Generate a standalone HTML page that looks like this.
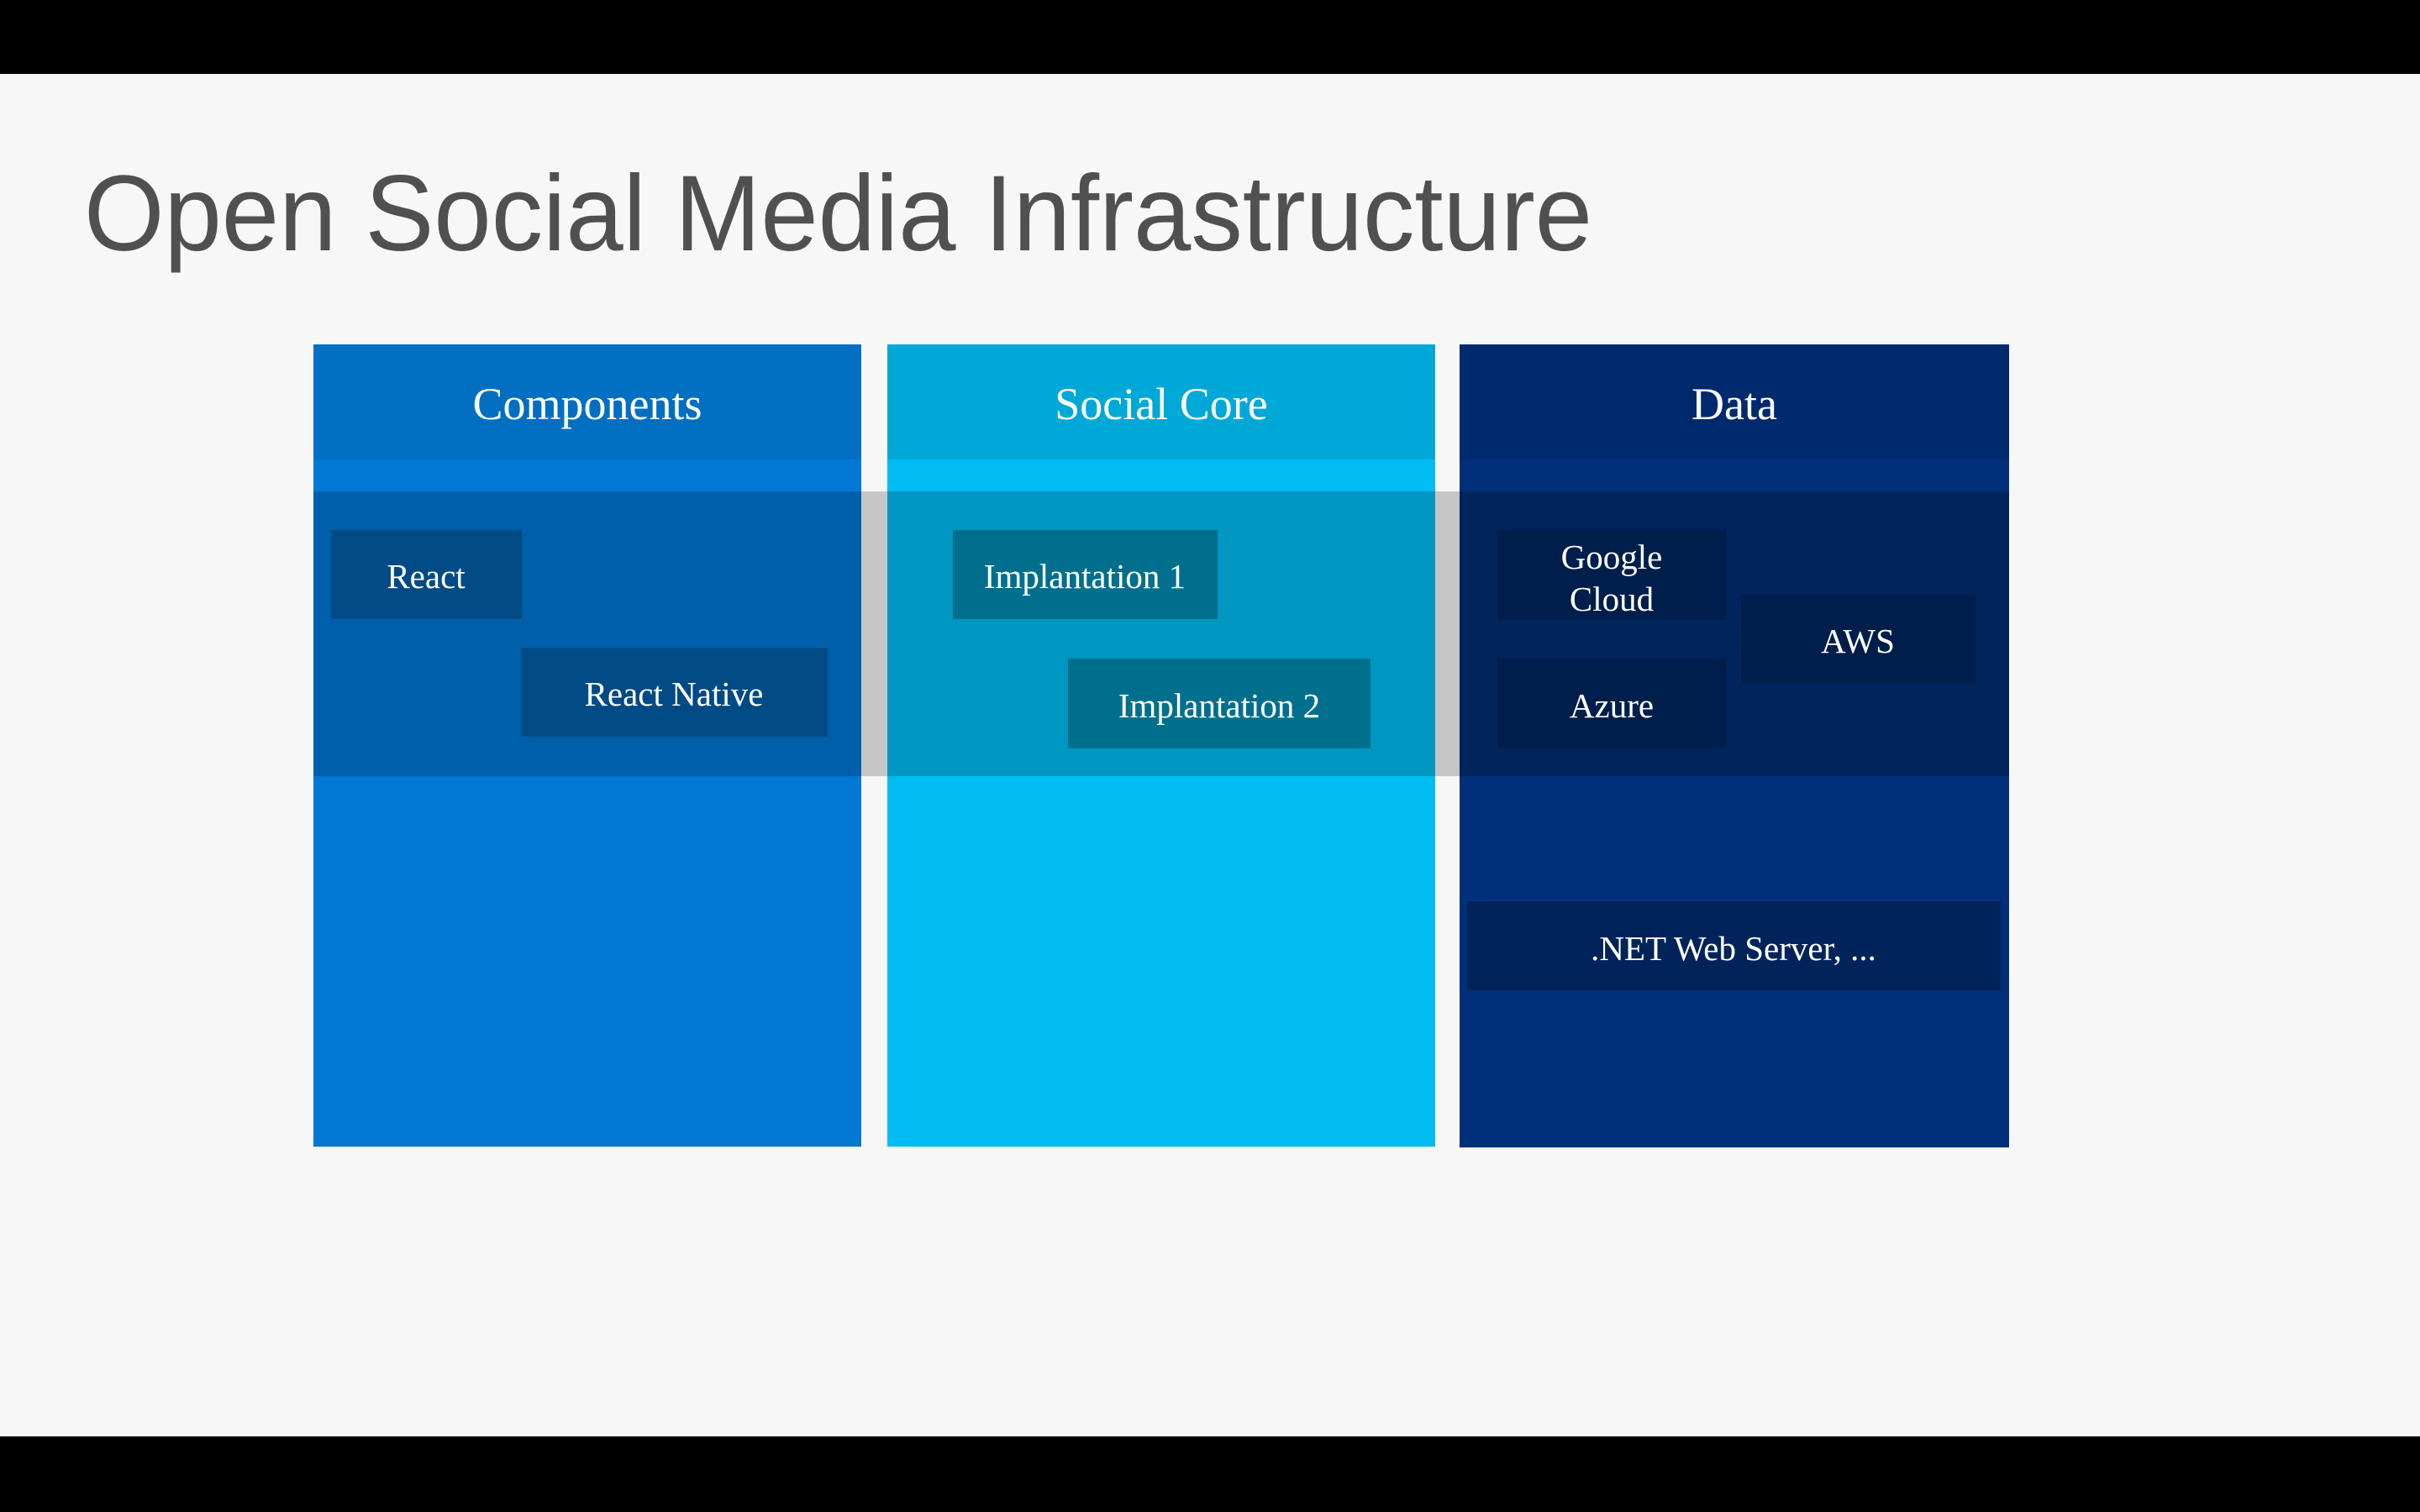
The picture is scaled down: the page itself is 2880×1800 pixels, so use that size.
<!DOCTYPE html>
<html><head><meta charset="utf-8"><style>
html,body{margin:0;padding:0;background:#f7f7f7;}
svg{display:block}
</style></head><body>
<svg width="2880" height="1800" viewBox="0 0 2880 1800" xmlns="http://www.w3.org/2000/svg">
<rect width="2880" height="1800" fill="#f7f7f7"/>
<rect x="0" y="0" width="2880" height="88" fill="#000"/>
<rect x="0" y="1710" width="2880" height="90" fill="#000"/>
<text x="100" y="298" font-family="Liberation Sans, sans-serif" font-size="128" fill="#505050" textLength="1795" lengthAdjust="spacingAndGlyphs">Open Social Media Infrastructure</text>

<rect x="1025" y="585" width="713" height="339" fill="#c6c6c6"/>

<rect x="373" y="410" width="652" height="955" fill="#0078d4"/>
<rect x="373" y="410" width="652" height="137" fill="#006fc1"/>
<rect x="373" y="585" width="652" height="339" fill="#005fab"/>
<rect x="1056" y="410" width="652" height="955" fill="#00bcf2"/>
<rect x="1056" y="410" width="652" height="137" fill="#00a8d8"/>
<rect x="1056" y="585" width="652" height="339" fill="#0096c2"/>
<rect x="1737" y="410" width="654" height="956" fill="#00307a"/>
<rect x="1737" y="410" width="654" height="137" fill="#002a6e"/>
<rect x="1737" y="585" width="654" height="339" fill="#00245c"/>

<g font-family="Liberation Serif, serif" fill="#fff" text-anchor="middle">
<text x="699" y="499" font-size="54">Components</text>
<text x="1382" y="499" font-size="54">Social Core</text>
<text x="2064" y="499" font-size="54">Data</text>
</g>

<rect x="394" y="631" width="227" height="106" fill="#004a85"/>
<rect x="620" y="771" width="365" height="106" fill="#004a85"/>
<rect x="1134" y="631" width="315" height="106" fill="#006f8e"/>
<rect x="1271" y="784" width="360" height="107" fill="#006f8e"/>
<rect x="1782" y="631" width="272" height="107" fill="#001e4b"/>
<rect x="1782" y="784" width="272" height="107" fill="#001e4b"/>
<rect x="2072" y="708" width="279" height="106" fill="#001e4b"/>
<rect x="1746" y="1073" width="635" height="106" fill="#00235a"/>

<g font-family="Liberation Serif, serif" fill="#fff" text-anchor="middle" font-size="41">
<text x="507" y="700">React</text>
<text x="802" y="840">React Native</text>
<text x="1291" y="700">Implantation 1</text>
<text x="1451" y="854">Implantation 2</text>
<text x="1918" y="677">Google</text>
<text x="1918" y="727">Cloud</text>
<text x="1918" y="854">Azure</text>
<text x="2211" y="777">AWS</text>
<text x="2063" y="1143">.NET Web Server, ...</text>
</g>
</svg>
</body></html>
